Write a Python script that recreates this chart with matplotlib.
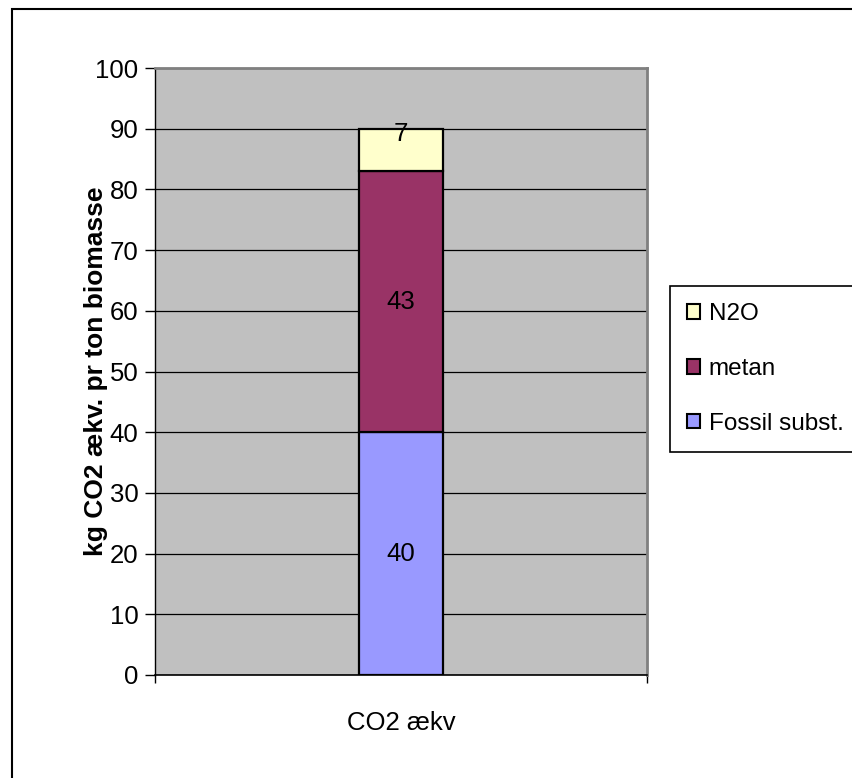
import matplotlib
matplotlib.use('Agg')
import matplotlib.pyplot as plt
from matplotlib import font_manager
from matplotlib.patches import Rectangle, Patch
import numpy as np

# ---- data ----
categories = ['CO2 ækv']
series_names = ['Fossil subst.', 'metan', 'N2O']
series_values = [[40], [43], [7]]
series_colors = ['#9999FF', '#993366', '#FFFFCC']
y_ticks = [0, 10, 20, 30, 40, 50, 60, 70, 80, 90, 100]
y_label = 'kg CO2 ækv. pr ton biomasse'

names = {f.name for f in font_manager.fontManager.ttflist}
if 'Liberation Sans Narrow' in names:
    nfont = ['Liberation Sans Narrow', 'DejaVu Sans']
    fs, lfs = 21, 21
else:
    nfont = ['Liberation Sans', 'DejaVu Sans']
    fs, lfs = 18.5, 17.5
plt.rcParams['font.family'] = nfont

W, H = 853, 778
fig = plt.figure(figsize=(W / 100, H / 100), dpi=100)
ax = fig.add_axes([155 / W, 1 - 675 / H, 492 / W, 607 / H])
ax.set_facecolor('#C0C0C0')

x = np.arange(len(categories))
bottom = np.zeros(len(categories))
handles = []
for name, vals, col in zip(series_names, series_values, series_colors):
    vals = np.array(vals, dtype=float)
    ax.bar(x, vals, width=0.17, bottom=bottom, color=col,
           edgecolor='black', linewidth=1.6, zorder=3)
    for xi, b, v in zip(x, bottom, vals):
        yy = b + v / 2 if v >= 10 else b + v - 0.9
        ax.text(xi, yy, f'{v:g}', ha='center', va='center', fontsize=fs,
                color='black', zorder=4)
    handles.append(Patch(facecolor=col, edgecolor='black', linewidth=1.5, label=name))
    bottom += vals

ax.set_xlim(-0.5, len(categories) - 0.5)
ax.set_ylim(0, 100)
ax.set_yticks(y_ticks)
ax.set_yticklabels([str(t) for t in y_ticks], fontsize=fs)
ax.yaxis.grid(True, color='black', linewidth=0.9)
ax.set_axisbelow(True)

# category boundaries as major ticks, label as minor tick
ax.set_xticks(np.arange(len(categories) + 1) - 0.5)
ax.set_xticklabels([])
ax.set_xticks(x, minor=True)
ax.set_xticklabels(categories, minor=True, fontsize=fs)
ax.tick_params(axis='x', which='minor', length=0, pad=26)
ax.tick_params(axis='x', which='major', direction='out', length=6, width=1)
ax.tick_params(axis='y', direction='out', length=7, width=1, pad=5)

ax.spines['top'].set_color('#808080')
ax.spines['right'].set_color('#808080')
ax.spines['top'].set_linewidth(2)
ax.spines['right'].set_linewidth(2)
ax.spines['left'].set_color('black')
ax.spines['bottom'].set_color('black')
ax.spines['left'].set_linewidth(1)
ax.spines['bottom'].set_linewidth(1.2)

ax.set_ylabel(y_label, fontsize=19, fontweight='bold', family='Liberation Sans')
ax.yaxis.set_label_coords(-0.096, 0.5)

# legend (top entry = last series)
leg = fig.legend(handles[::-1], [h.get_label() for h in handles[::-1]],
                 loc='upper left',
                 bbox_to_anchor=(670 / W, 1 - 454 / H, 0.3, (454 - 286) / H),
                 mode='expand', borderaxespad=0, fancybox=False, framealpha=1,
                 fontsize=lfs, handlelength=0.55, handleheight=0.55,
                 handletextpad=0.35, labelspacing=1.35, borderpad=0.7)
fr = leg.get_frame()
fr.set_edgecolor('black')
fr.set_linewidth(1.2)

# outer chart border (extends past right/bottom edge)
fig.add_artist(Rectangle((12 / W, -0.5), 2.0, 1 - 9 / H + 0.5,
                         transform=fig.transFigure, fill=False,
                         edgecolor='black', linewidth=1.5))

fig.savefig('out.png', dpi=100)
